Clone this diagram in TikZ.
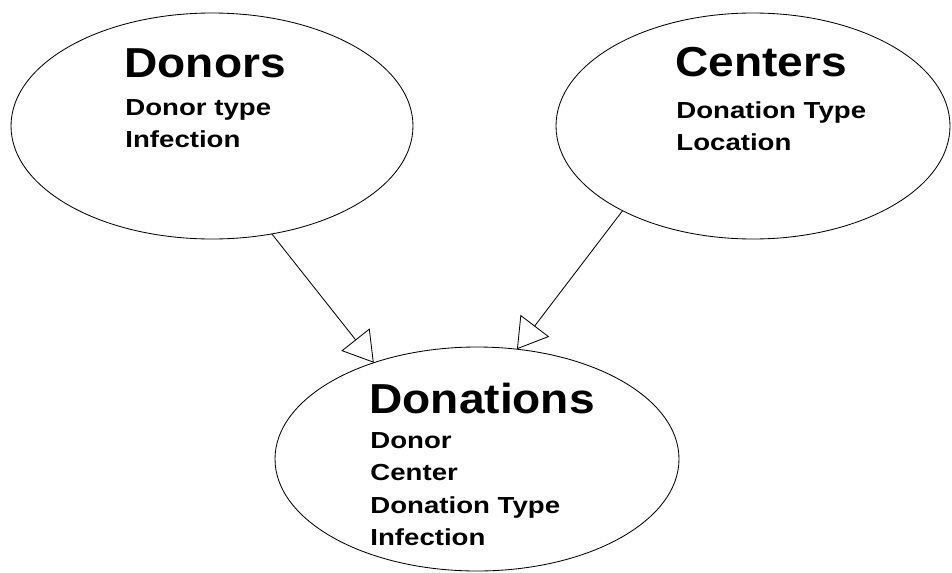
\documentclass[tikz,border=0pt]{standalone}
\usepackage{fontspec}
\setmainfont{Liberation Sans}
\newfontfamily\titlefont[FakeStretch=1.10]{Liberation Sans}
\newfontfamily\attrfont[FakeStretch=1.19]{Liberation Sans}
\usepackage{tikz}
\usetikzlibrary{arrows.meta, shapes.geometric}

\begin{document}
\begin{tikzpicture}[x=0.025cm, y=-0.025cm, line width=0.6pt,
  entity/.style={ellipse, draw, inner sep=0pt, outer sep=0pt},
  title/.style={anchor=base west, inner sep=0pt, font=\titlefont\bfseries\fontsize{29.8}{30}\selectfont},
  attrs/.style={anchor=north west, inner sep=0pt, align=left, font=\attrfont\bfseries\fontsize{16.5}{22.8}\selectfont},
  link/.style={-{Triangle[open, length=21pt, width=25.6pt]}}]
\useasboundingbox (0,0) rectangle (952,572);
% Donors
\node[entity, minimum width=402*0.025cm, minimum height=226*0.025cm] (donors) at (212,126) {};
\node[title] (donorsname) at (124,77) {Donors};
\node[attrs] (donorsattr) at (125,99.5) {Donor type\\Infection};

% Centers
\node[entity, minimum width=394*0.025cm, minimum height=226*0.025cm] (centers) at (753,126) {};
\node[title] (centersname) at (675,76) {Centers};
\node[attrs] (centersattr) at (676,101.5) {Donation Type\\Location};

% Donations
\node[entity, minimum width=404*0.025cm, minimum height=224*0.025cm] (donations) at (477,459) {};
\node[title] (donationsname) at (369,413) {Donations};
\node[attrs] (donationsattr) at (370,432.5) {Donor\\Center\\Donation Type\\Infection};

% Links
\draw[link] (donors.-61) -- (donations.137.5);
\draw[link] (centers.213.8) -- (donations.70.2);
\end{tikzpicture}
\end{document}
